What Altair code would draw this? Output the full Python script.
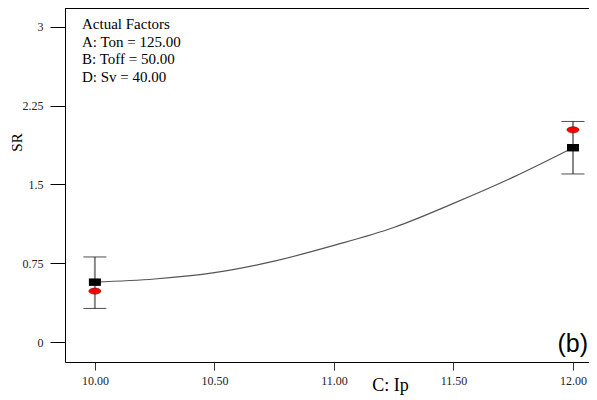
import altair as alt
import pandas as pd

# Fitted curve
curve_x = [10.0, 10.25, 10.5, 10.75, 11.0, 11.25, 11.5, 11.75, 12.0]
curve_y = [0.57, 0.60, 0.66, 0.77, 0.92, 1.09, 1.32, 1.57, 1.85]

# Design points
pt_x = [10.0, 12.0]
pred_y = [0.57, 1.85]
actual_y = [0.485, 2.02]
low_y = [0.32, 1.60]
high_y = [0.81, 2.10]

x_ticks = [10.0, 10.5, 11.0, 11.5, 12.0]
y_ticks = [0, 0.75, 1.5, 2.25, 3]

legend_lines = ["Actual Factors", "A: Ton = 125.00", "B: Toff = 50.00", "D: Sv = 40.00"]
panel_label = "(b)"

curve = pd.DataFrame({"x": curve_x, "y": curve_y})
pts = pd.DataFrame({"x": pt_x, "pred": pred_y, "act": actual_y, "lo": low_y, "hi": high_y})

FONT = "Liberation Serif"
PW = 524

xs = alt.Scale(domain=[9.875, 12.067], nice=False, zero=False)
ys = alt.Scale(domain=[-0.19, 3.18], nice=False, zero=False)

xax = alt.Axis(values=x_ticks, format=".2f", title="C: Ip", grid=False,
               tickSize=8, tickColor="#333", domainColor="#000",
               labelFont=FONT, labelFontSize=12, labelColor="#222", labelPadding=5,
               titleFont=FONT, titleFontSize=18, titleFontWeight="normal", titleColor="#000",
               titleX=325, titleY=28, titleBaseline="alphabetic")
yax = alt.Axis(values=y_ticks, labelExpr="datum.value == 0 ? '0' : format(datum.value, '.3~f')",
               title="SR", grid=False,
               tickSize=15, tickColor="#000", domainColor="#000",
               labelFont=FONT, labelFontSize=12, labelColor="#222", labelPadding=7,
               titleFont=FONT, titleFontSize=15, titleFontWeight="normal", titleColor="#000",
               titleX=-49, titleY=134, titleAngle=270, titleBaseline="middle")

line = alt.Chart(curve).mark_line(color="#555", strokeWidth=1.2, interpolate="monotone").encode(
    x=alt.X("x:Q", scale=xs, axis=xax), y=alt.Y("y:Q", scale=ys, axis=yax))

top_border = alt.Chart(pd.DataFrame({"t": [0]})).mark_rule(color="#000", strokeWidth=1).encode(
    x=alt.value(0), x2=alt.value(PW), y=alt.value(0.5))

err = alt.Chart(pts).mark_rule(color="#888", strokeWidth=2).encode(
    x=alt.X("x:Q", scale=xs), y=alt.Y("lo:Q", scale=ys), y2="hi:Q")

cap_lo = alt.Chart(pts).mark_tick(orient="horizontal", size=23, thickness=1, color="#000").encode(
    x=alt.X("x:Q", scale=xs), y=alt.Y("lo:Q", scale=ys))
cap_hi = alt.Chart(pts).mark_tick(orient="horizontal", size=23, thickness=1, color="#000").encode(
    x=alt.X("x:Q", scale=xs), y=alt.Y("hi:Q", scale=ys))

pred = alt.Chart(pts).mark_point(shape="M-1,-0.62H1V0.62H-1Z", size=144, filled=True,
                                 color="#000", opacity=1).encode(
    x=alt.X("x:Q", scale=xs), y=alt.Y("pred:Q", scale=ys))

act = alt.Chart(pts).mark_point(shape="M-1,0A1,0.5 0 1,0 1,0A1,0.5 0 1,0 -1,0Z", size=144,
                                filled=True, fill="#ff0000", stroke="#600", strokeWidth=0.6,
                                opacity=1).encode(
    x=alt.X("x:Q", scale=xs), y=alt.Y("act:Q", scale=ys))

leg_layers = []
for i, t in enumerate(legend_lines):
    leg_layers.append(alt.Chart(pd.DataFrame({"t": [t]})).mark_text(
        font=FONT, fontSize=15, align="left", baseline="alphabetic", color="#000").encode(
        x=alt.value(17), y=alt.value(21 + 17.5 * i), text="t:N"))

lbl = alt.Chart(pd.DataFrame({"t": [panel_label]})).mark_text(
    font="Liberation Sans", fontSize=25, align="right", baseline="alphabetic", color="#000").encode(
    x=alt.value(PW - 1), y=alt.value(344), text="t:N")

chart = alt.layer(line, top_border, err, cap_lo, cap_hi, act, pred, *leg_layers, lbl).properties(
    width=PW, height=354,
    autosize=alt.AutoSizeParams(type="none"),
    padding={"left": 57, "top": 0, "right": 0, "bottom": 34}
).configure_view(stroke=None).configure(background="white")

chart.save("out.html", embed_options={"renderer": "svg", "actions": False})
